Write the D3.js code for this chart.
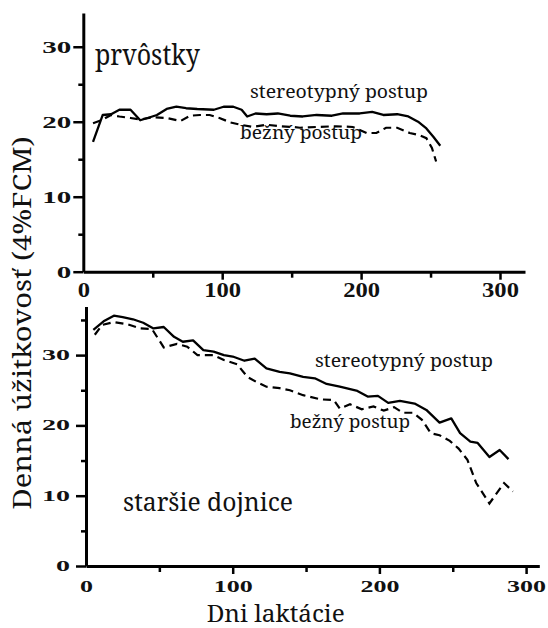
<!DOCTYPE html>
<html>
<head>
<meta charset="utf-8">
<script src="https://cdn.jsdelivr.net/npm/d3@7"></script>
<style>
  body { margin: 0; background: #fff; }
</style>
</head>
<body>
<script>
// DATA
// prvôstky (first-calvers)
var topStereoDays = [7,14,20,26,34,41,48,53,60,67,74,82,94,101,108,114,118,124,132,140,149,158,168,179,187,199,208,216,226,234,241,247,252,257];
var topStereoVals = [17.3,20.9,21.0,21.6,21.6,20.2,20.6,20.9,21.7,22.0,21.8,21.7,21.6,22.0,22.0,21.6,20.7,21.1,21.0,21.1,20.8,20.7,20.9,20.8,21.1,21.1,21.3,20.9,21.0,20.7,20.0,19.1,18.0,16.8];
var topBeznyDays = [7,13,20,26,34,41,50,60,70,77,84,91,98,106,113,122,132,142,151,156,168,182,194,204,211,218,226,235,242,247,251,254];
var topBeznyVals = [19.8,20.2,20.9,20.7,20.5,20.3,20.6,20.5,20.1,20.8,20.9,20.9,20.5,19.9,19.6,19.3,19.6,19.4,19.3,19.2,19.3,19.4,19.3,18.5,18.5,19.2,19.2,18.5,18.2,17.8,16.5,14.7];

// staršie dojnice (older cows)
var botStereoDays = [5,12,19,25,32,39,46,53,60,66,73,80,87,94,100,108,115,123,132,139,148,156,164,173,185,192,199,206,214,224,232,241,249,255,262,267,275,282,288];
var botStereoVals = [33.6,34.8,35.6,35.4,35.1,34.6,33.8,34.0,32.6,31.9,32.1,30.7,30.5,30.0,29.8,29.2,29.5,28.1,27.6,27.4,26.9,26.7,25.9,25.5,24.9,24.1,24.2,23.2,23.5,23.1,22.2,20.4,21.0,18.9,17.7,17.5,15.5,16.5,15.2];
var botBeznyDays = [6,11,19,28,37,45,53,62,69,76,87,94,103,110,116,123,132,139,148,160,169,173,180,188,196,203,210,216,223,229,235,241,248,254,260,266,275,285,291];
var botBeznyVals = [32.9,34.3,34.7,34.4,33.8,33.7,31.1,31.6,31.2,30.0,30.0,29.3,28.7,26.9,26.2,25.5,25.3,25.0,24.3,23.7,23.6,22.4,23.0,22.3,22.7,22.1,22.6,21.8,21.8,20.8,18.9,18.6,17.8,16.7,15.1,11.8,8.9,11.8,10.6];

// tick values
var xTicks = [0,50,100,150,200,250,300];
var topYTicks = [0,5,10,15,20,25,30];
var botYTicks = [0,5,10,15,20,25,30,35];

var w = 548, h = 628;
var serif = '"Noto Serif", serif';          // regular serif text
var serifBold = '"Liberation Serif", serif'; // bold tick labels
var svg = d3.select('body').append('svg').attr('width', w).attr('height', h);

// panel layout
var panels = [
  { x0: 83.3, x1: 525, xMax: 318, y0: 271.7, y1: 13, yMax: 34.5,
    stereo: [topStereoDays, topStereoVals], bezny: [topBeznyDays, topBeznyVals], yTicks: topYTicks,
    yFs: 17, yDigit: 14.5, yPad: 2, xFs: 22, xDigit: 12.3, xPad: 2 },
  { x0: 86, x1: 539.3, xMax: 309, y0: 566, y1: 306.6, yMax: 36.9,
    stereo: [botStereoDays, botStereoVals], bezny: [botBeznyDays, botBeznyVals], yTicks: botYTicks,
    yFs: 14, yDigit: 14, yPad: 6, xFs: 17, xDigit: 13, xPad: 6 }
];

// text labels
function label(txt, x, y, size, len) {
  svg.append('text').attr('x', x).attr('y', y)
    .style('font-family', serif).style('font-size', size + 'px').attr('fill', '#111')
    .attr('textLength', len).attr('lengthAdjust', 'spacingAndGlyphs')
    .text(txt);
}
label('prvôstky', 95, 65, 29, 105);
label('stereotypný postup', 250, 98, 18, 178);
label('bežný postup', 240, 139, 18, 122);
label('stereotypný postup', 315, 366.5, 18, 178);
label('bežný postup', 290, 428, 18, 120);
label('staršie dojnice', 123, 510.5, 26, 170);
label('Dni laktácie', 206.7, 622, 23, 138);

svg.append('text')
  .attr('transform', 'translate(31,323) rotate(-90)')
  .attr('text-anchor', 'middle')
  .style('font-family', serif).style('font-size', '25px').attr('fill', '#111')
  .attr('textLength', 373).attr('lengthAdjust', 'spacingAndGlyphs')
  .text('Denná úžitkovosť (4%FCM)');

panels.forEach(function(p) {
  var x = d3.scaleLinear().domain([0, p.xMax]).range([p.x0, p.x1]);
  var y = d3.scaleLinear().domain([0, p.yMax]).range([p.y0, p.y1]);

  // x axis
  var gx = svg.append('g').attr('transform', 'translate(0,' + p.y0 + ')')
    .call(d3.axisBottom(x).tickValues(xTicks).tickSize(8).tickPadding(p.xPad).tickSizeOuter(0)
      .tickFormat(function(d) { return d % 100 === 0 ? d : ''; }));
  // y axis
  var gy = svg.append('g').attr('transform', 'translate(' + p.x0 + ',0)')
    .call(d3.axisLeft(y).tickValues(p.yTicks).tickSize(10).tickPadding(p.yPad).tickSizeOuter(0)
      .tickFormat(function(d) { return d % 10 === 0 ? d : ''; }));

  gx.select('.domain').attr('stroke', '#000').attr('stroke-width', 3);
  gy.select('.domain').attr('stroke', '#000').attr('stroke-width', 3);
  gx.selectAll('.tick line').attr('stroke-width', 2.5)
    .attr('y2', function(d) { return d % 100 === 0 ? 8 : 6; });
  gy.selectAll('.tick line').attr('stroke-width', 2.5)
    .attr('x2', function(d) { return d % 10 === 0 ? -10 : -5; });

  gx.selectAll('.tick text')
    .style('font-family', serifBold).style('font-size', p.xFs + 'px').style('font-weight', 'bold').attr('fill', '#111')
    .attr('textLength', function(d) { return d % 100 === 0 ? String(d).length * p.xDigit : null; })
    .attr('lengthAdjust', 'spacingAndGlyphs');
  gy.selectAll('.tick text')
    .style('font-family', serifBold).style('font-size', p.yFs + 'px').style('font-weight', 'bold').attr('fill', '#111')
    .attr('textLength', function(d) { return d % 10 === 0 ? String(d).length * p.yDigit : null; })
    .attr('lengthAdjust', 'spacingAndGlyphs');
  gx.select('.tick').select('line').remove();

  var line = d3.line().x(function(d) { return x(d[0]); }).y(function(d) { return y(d[1]); });

  svg.append('path')
    .datum(d3.zip(p.stereo[0], p.stereo[1]))
    .attr('d', line).attr('fill', 'none').attr('stroke', '#000')
    .attr('stroke-width', 2.3).attr('stroke-linejoin', 'round');

  svg.append('path')
    .datum(d3.zip(p.bezny[0], p.bezny[1]))
    .attr('d', line).attr('fill', 'none').attr('stroke', '#000')
    .attr('stroke-width', 2.2).attr('stroke-dasharray', '8,5');
});
</script>
</body>
</html>
